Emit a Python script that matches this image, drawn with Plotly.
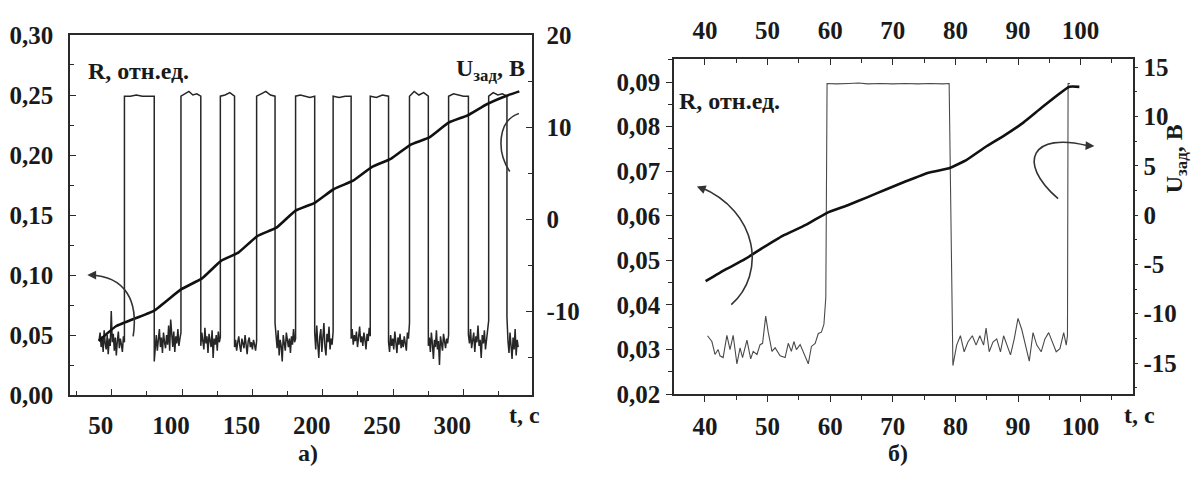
import plotly.graph_objects as go

# ---------------- DATA : panel а) ----------------
A_START = 41.0
A_END = 339.0
A_RISE = [59.0, 99.2, 127.2, 153.0, 180.7, 207.4, 233.8, 261.7, 289.5, 318.0]
A_FALL = [80.2, 113.3, 137.3, 166.1, 194.3, 220.2, 246.8, 275.1, 303.6, 331.0]

A_LOW = [
    [0.046, 0.052, 0.040, 0.049, 0.036, 0.054, 0.043, 0.038, 0.050, 0.034, 0.047, 0.041, 0.070,
     0.044, 0.051, 0.037, 0.048, 0.033, 0.045, 0.053, 0.039, 0.047, 0.042, 0.036, 0.049, 0.044],
    [0.028, 0.043, 0.050, 0.037, 0.046, 0.055, 0.040, 0.048, 0.035, 0.052, 0.044, 0.039, 0.050,
     0.042, 0.058, 0.037, 0.063, 0.045, 0.040, 0.053, 0.036, 0.049, 0.043, 0.055, 0.041, 0.047, 0.052],
    [0.041, 0.052, 0.046, 0.038, 0.056, 0.043, 0.049, 0.035, 0.051, 0.045, 0.040, 0.054, 0.031,
     0.047, 0.042, 0.050, 0.037, 0.053, 0.044, 0.048],
    [0.040, 0.046, 0.037, 0.044, 0.049, 0.041, 0.036, 0.047, 0.043, 0.039, 0.050, 0.042, 0.034,
     0.045, 0.048, 0.040, 0.044, 0.038, 0.046, 0.042, 0.037, 0.045],
    [0.060, 0.048, 0.039, 0.054, 0.033, 0.046, 0.041, 0.028, 0.050, 0.043, 0.037, 0.052, 0.045,
     0.040, 0.047, 0.035, 0.049, 0.042, 0.055, 0.044, 0.047],
    [0.052, 0.038, 0.058, 0.043, 0.031, 0.049, 0.055, 0.036, 0.046, 0.060, 0.040, 0.033, 0.051,
     0.044, 0.057, 0.038, 0.047, 0.042, 0.053],
    [0.047, 0.055, 0.042, 0.050, 0.045, 0.053, 0.040, 0.048, 0.057, 0.044, 0.049, 0.041, 0.052,
     0.046, 0.038, 0.051, 0.045, 0.056, 0.049],
    [0.044, 0.036, 0.050, 0.041, 0.047, 0.038, 0.053, 0.043, 0.035, 0.048, 0.042, 0.051, 0.039,
     0.046, 0.040, 0.049, 0.044, 0.037, 0.052, 0.047, 0.060],
    [0.041, 0.048, 0.036, 0.052, 0.043, 0.030, 0.046, 0.040, 0.054, 0.038, 0.045, 0.025, 0.049,
     0.042, 0.037, 0.051, 0.044, 0.039, 0.047, 0.043, 0.050],
    [0.050, 0.043, 0.055, 0.039, 0.047, 0.052, 0.036, 0.049, 0.044, 0.058, 0.041, 0.046, 0.031,
     0.050, 0.043, 0.054, 0.038, 0.047, 0.056, 0.062],
    [0.065, 0.045, 0.035, 0.052, 0.040, 0.030, 0.048, 0.038, 0.055, 0.033, 0.046, 0.040],
]
A_HIGH = [
    [0.249, 0.249, 0.250, 0.249, 0.249, 0.249],
    [0.249, 0.251, 0.253, 0.250, 0.251, 0.249],
    [0.249, 0.250, 0.252, 0.249],
    [0.249, 0.251, 0.253, 0.250, 0.249],
    [0.249, 0.250, 0.249, 0.248, 0.249],
    [0.249, 0.248, 0.249, 0.249],
    [0.249, 0.248, 0.250, 0.249],
    [0.249, 0.253, 0.250, 0.252, 0.249],
    [0.249, 0.251, 0.250, 0.249, 0.249],
    [0.249, 0.252, 0.250, 0.251, 0.249],
]

A_U_T = [40.7, 53.0, 80.2, 99.2, 114.2, 127.7, 140.0, 153.6, 167.1, 180.7, 194.3, 208.0,
         221.6, 235.1, 248.7, 262.3, 275.9, 289.5, 303.1, 316.7, 330.3, 339.8]
A_U = [-13.2, -11.6, -9.9, -7.6, -6.4, -4.5, -3.6, -1.8, -0.9, 0.95, 1.8, 3.3,
       4.2, 5.7, 6.6, 8.1, 8.9, 10.5, 11.3, 12.5, 13.4, 13.9]

A_XTICKS = [50, 100, 150, 200, 250, 300]
A_YTICKS = [0.0, 0.05, 0.10, 0.15, 0.20, 0.25, 0.30]
A_YTEXT = ["0,00", "0,05", "0,10", "0,15", "0,20", "0,25", "0,30"]
A_Y2TICKS = [-10, 0, 10, 20]
A_Y2TEXT = ["-10", "0", "10", "20"]

# ---------------- DATA : panel б) ----------------
B_R_T = [40.4, 41.1, 41.6, 42.1, 42.4, 42.9, 43.5, 44.0, 44.5, 45.1, 45.6, 46.0, 46.7, 47.3,
         47.7, 48.3, 48.8, 49.2, 49.7, 50.1, 50.7, 51.2, 52.0, 52.8, 53.3, 53.8, 54.2, 54.6,
         55.2, 55.7, 56.5, 57.0, 57.6, 58.1, 58.6, 59.0, 59.3,
         59.5, 61.0, 63.0, 64.5, 66.0, 68.0, 70.0, 72.0, 74.0, 76.0, 78.0, 79.0,
         79.6, 80.2, 80.8, 81.4, 82.0, 82.7, 83.3, 83.9, 84.5, 84.9, 85.4, 86.0, 86.6, 87.2,
         87.7, 88.2, 88.8, 89.4, 90.0, 90.6, 91.2, 91.8, 92.4, 93.0, 93.7, 94.3, 94.9, 95.5,
         96.1, 96.7, 97.3, 97.7, 97.9, 98.0, 98.3]
B_R = [0.0331, 0.0318, 0.0289, 0.0300, 0.0286, 0.0282, 0.0332, 0.0300, 0.0332, 0.0268, 0.0304,
       0.0282, 0.0321, 0.0279, 0.0296, 0.0289, 0.0311, 0.0314, 0.0375, 0.0339, 0.0296, 0.0304,
       0.0286, 0.0282, 0.0314, 0.0296, 0.0318, 0.0300, 0.0311, 0.0293, 0.0268, 0.0307, 0.0314,
       0.0336, 0.0339, 0.0357, 0.0417,
       0.0897, 0.0896, 0.0897, 0.0898, 0.0896, 0.0897, 0.0896, 0.0897, 0.0896, 0.0897, 0.0896, 0.0897,
       0.0264, 0.0310, 0.0331, 0.0295, 0.0317, 0.0331, 0.0310, 0.0331, 0.0310, 0.0348, 0.0295,
       0.0317, 0.0324, 0.0295, 0.0331, 0.0310, 0.0288, 0.0324, 0.0370, 0.0345, 0.0310, 0.0274,
       0.0338, 0.0310, 0.0295, 0.0324, 0.0338, 0.0317, 0.0295, 0.0302, 0.0338, 0.0310, 0.0331,
       0.0897, 0.0897]

B_U_T = [40.1, 43.3, 46.3, 49.4, 52.4, 56.1, 59.5, 62.8, 65.9, 68.9, 72.0, 75.7, 79.0,
         81.8, 84.8, 87.9, 90.9, 94.0, 98.2, 99.8]
B_U = [-6.7, -5.5, -4.5, -3.25, -2.1, -1.0, 0.23, 1.0, 1.8, 2.6, 3.4, 4.3, 4.75,
       5.6, 6.9, 8.1, 9.4, 11.0, 13.0, 13.0]

B_XTICKS = [40, 50, 60, 70, 80, 90, 100]
B_YTICKS = [0.02, 0.03, 0.04, 0.05, 0.06, 0.07, 0.08, 0.09]
B_YTEXT = ["0,02", "0,03", "0,04", "0,05", "0,06", "0,07", "0,08", "0,09"]
B_Y2TICKS = [-15, -10, -5, 0, 5, 10, 15]
B_Y2TEXT = ["-15", "-10", "-5", "0", "5", "10", "15"]

# ---------------- build panel а) R series ----------------
def spread(t0, t1, vals):
    n = len(vals)
    if n == 1:
        return [t0]
    return [t0 + (t1 - t0) * i / (n - 1) for i in range(n)]

a_t, a_r = [], []
low_starts = [A_START] + A_FALL
low_ends = A_RISE + [A_END]
for i, vals in enumerate(A_LOW):
    a_t += spread(low_starts[i], low_ends[i], vals)
    a_r += vals
    if i < len(A_HIGH):
        a_t += spread(A_RISE[i], A_FALL[i], A_HIGH[i])
        a_r += A_HIGH[i]

# ---------------- styling ----------------
FONT = "Liberation Serif"
TXT = "#1a1a1a"
AX = "#2a2a2a"
W, H = 1199, 477

def px2x(p):
    return p / W

def py2y(p):
    return 1 - p / H

tickfont = dict(family=FONT, size=25, color=TXT, weight="bold")

fig = go.Figure()
fig.add_trace(go.Scatter(x=a_t, y=a_r, mode="lines", line=dict(color="#262626", width=1.5),
                         xaxis="x", yaxis="y", hoverinfo="skip", showlegend=False))
fig.add_trace(go.Scatter(x=A_U_T, y=A_U, mode="lines", line=dict(color="#111", width=2.6, shape="spline", smoothing=0.4),
                         xaxis="x", yaxis="y2", hoverinfo="skip", showlegend=False))
fig.add_trace(go.Scatter(x=B_R_T, y=B_R, mode="lines", line=dict(color="#4a4a4a", width=1.1),
                         xaxis="x2", yaxis="y3", hoverinfo="skip", showlegend=False))
fig.add_trace(go.Scatter(x=B_U_T, y=B_U, mode="lines", line=dict(color="#111", width=2.6, shape="spline", smoothing=0.4),
                         xaxis="x2", yaxis="y4", hoverinfo="skip", showlegend=False))
# carrier for the top axis of panel б)
fig.add_trace(go.Scatter(x=B_U_T, y=B_R[:len(B_U_T)], mode="lines", opacity=0, line=dict(width=0),
                         xaxis="x3", yaxis="y3", hoverinfo="skip", showlegend=False))

def axis(ticklen=6, **kw):
    d = dict(showgrid=False, zeroline=False, showline=True, linecolor=AX, linewidth=1.5,
             tickcolor=AX, tickfont=tickfont, ticklen=ticklen, tickwidth=1.3)
    d.update(kw)
    return d

fig.update_layout(
    width=W, height=H, margin=dict(l=0, r=0, t=0, b=0),
    paper_bgcolor="white", plot_bgcolor="white", separators=", ",
    xaxis=axis(domain=[px2x(70), px2x(531.7)], anchor="y", range=[20.3, 348.6], tickvals=A_XTICKS,
               ticks="inside", mirror=True, ticklabelshift=-11, ticklabelstandoff=7,
               minor=dict(ticks="inside", ticklen=4, tickcolor=AX, tick0=25, dtick=50)),
    yaxis=axis(domain=[py2y(405), py2y(23.3)], anchor="x", range=[0, 0.30], tickvals=A_YTICKS,
               ticktext=A_YTEXT, ticks="inside", ticklabelstandoff=10,
               minor=dict(ticks="inside", ticklen=4, tickcolor=AX, tick0=0.025, dtick=0.05)),
    yaxis2=axis(anchor="x", overlaying="y", side="right", range=[-19.07, 20.02],
                tickvals=A_Y2TICKS, ticktext=A_Y2TEXT, ticks="inside", ticklabelstandoff=8,
                minor=dict(ticks="inside", ticklen=4, tickcolor=AX, tick0=5, dtick=10)),
    xaxis2=axis(domain=[px2x(674), px2x(1132.7)], anchor="y3", range=[35.05, 108.32],
                tickvals=B_XTICKS, ticks="outside", ticklabelstandoff=3,
                minor=dict(ticks="outside", ticklen=4, tickcolor=AX, tick0=5, dtick=10)),
    xaxis3=axis(anchor="y3", overlaying="x2", side="top", range=[35.05, 108.32],
                tickvals=B_XTICKS, ticks="inside", ticklabelstandoff=8,
                minor=dict(ticks="inside", ticklen=4, tickcolor=AX, tick0=5, dtick=10)),
    yaxis3=axis(domain=[py2y(404), py2y(49)], anchor="x2", range=[0.02, 0.09514], tickvals=B_YTICKS,
                ticktext=B_YTEXT, ticks="outside", ticklabelstandoff=1,
                minor=dict(ticks="outside", ticklen=4, tickcolor=AX, tick0=0.025, dtick=0.01)),
    yaxis4=axis(ticklen=4, anchor="x2", overlaying="y3", side="right", range=[-18.15, 15.8],
                tickvals=B_Y2TICKS, ticktext=B_Y2TEXT, ticks="outside", ticklabelstandoff=0,
                minor=dict(ticks="outside", ticklen=3, tickcolor=AX, tick0=2.5, dtick=5)),
)

lab = dict(family=FONT, size=24, color=TXT, weight="bold")
ann = [
    dict(text="R, отн.ед.", x=px2x(86), y=py2y(62), xanchor="left", yanchor="middle"),
    dict(text="U<sub>зад</sub>, В", x=px2x(527), y=py2y(60), xanchor="right", yanchor="middle"),
    dict(text="t, с", x=px2x(524), y=py2y(426), xanchor="center", yanchor="middle"),
    dict(text="а)", x=px2x(308), y=py2y(466), xanchor="center", yanchor="middle"),
    dict(text="R, отн.ед.", x=px2x(677), y=py2y(93), xanchor="left", yanchor="middle"),
    dict(text="t, с", x=px2x(1139), y=py2y(426), xanchor="center", yanchor="middle"),
    dict(text="б)", x=px2x(898), y=py2y(466), xanchor="center", yanchor="middle"),
    dict(text="U<sub>зад</sub>, В", x=px2x(1176), y=py2y(155), xanchor="center", yanchor="middle",
         textangle=-90),
]
for a in ann:
    a.update(xref="paper", yref="paper", showarrow=False, font=lab)
    fig.add_annotation(**a)

# curved pointer arrows
arc = dict(color="#333", width=1.6)
fig.add_shape(type="path", xref="x", yref="y", line=arc,
              path="M 65.2,0.049 C 69,0.078 60,0.099 34.5,0.100")
fig.add_shape(type="path", xref="x", yref="y2", line=arc,
              path="M 333,5.2 C 323,7.5 325,10.8 339.5,11.5")
fig.add_shape(type="path", xref="x2", yref="y3", line=arc,
              path="M 44.2,0.0401 C 49.8,0.047 48.5,0.061 39.3,0.0664")
fig.add_shape(type="path", xref="x2", yref="y4", line=arc,
              path="M 96.4,1.66 C 89.5,5.5 92.5,8.4 101.0,7.05")

heads = [
    dict(x=32.6, y=0.1000, ax=35.5, ay=0.1000, xref="x", yref="y", axref="x", ayref="y"),
    dict(x=341.2, y=11.7, ax=339.0, ay=11.45, xref="x", yref="y2", axref="x", ayref="y2"),
    dict(x=38.7, y=0.0666, ax=39.6, ay=0.0661, xref="x2", yref="y3", axref="x2", ayref="y3"),
    dict(x=102.2, y=7.0, ax=100.8, ay=7.05, xref="x2", yref="y4", axref="x2", ayref="y4"),
]
for h in heads:
    h.update(text="", showarrow=True, arrowhead=2, arrowsize=1.1, arrowwidth=1.6, arrowcolor="#333")
    fig.add_annotation(**h)

fig.write_html("out.html")
